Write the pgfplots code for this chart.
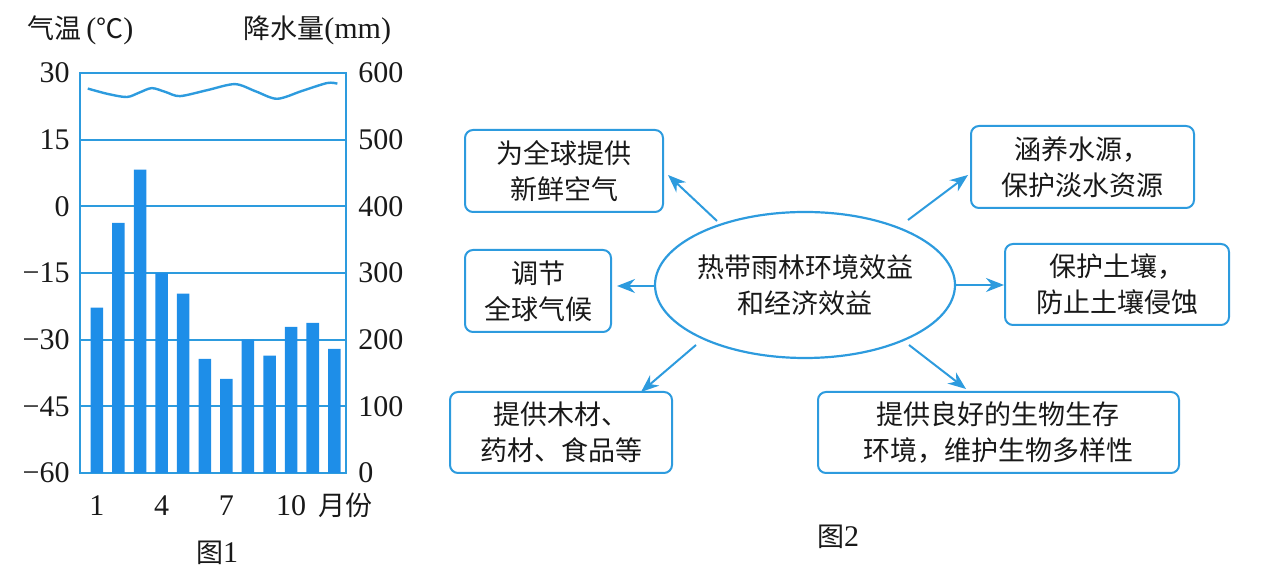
\documentclass[border=0pt]{standalone}
\usepackage{fontspec}
\usepackage{pgfplots}
\pgfplotsset{compat=1.18}
\usetikzlibrary{arrows.meta}
\setmainfont{Liberation Serif}
\newfontfamily\cjk{Noto Sans CJK SC}
\definecolor{barblue}{RGB}{30,142,232}
\definecolor{lineblue}{RGB}{45,155,222}
\definecolor{txt}{RGB}{25,25,25}
\newcommand{\cjkfont}{\cjk\fontsize{13.5}{18}\selectfont}
\newcommand{\numfont}{\fontsize{15}{15}\selectfont}
\begin{document}
\begin{tikzpicture}
\path[use as bounding box] (0,0) rectangle (630.5pt,285.5pt);
% temperature axis (left)
\begin{axis}[
  at={(40pt,49pt)}, anchor=south west,
  width=133pt, height=200pt, scale only axis,
  xmin=0.22, xmax=12.54, ymin=-60, ymax=30,
  xtick={1,4,7,10}, xticklabels={1,4,7,10},
  ytick={-60,-45,-30,-15,0,15,30},
  yticklabels={−60,−45,−30,−15,0,15,30},
  ymajorgrids, grid style={lineblue, line width=1pt},
  axis line style={lineblue, line width=1pt},
  major tick length=0pt,
  tick label style={font=\numfont, text=txt},
  yticklabel style={inner sep=0pt, xshift=-5pt},
  xticklabel style={inner sep=0pt, yshift=-11pt},
  clip=false,
]
\addplot[lineblue, line width=1.2pt, smooth] coordinates {
  (0.58,26.5) (1.5,25.3) (2.39,24.6) (2.97,25.6) (3.55,26.6) (4.2,25.7) (4.85,24.8)
  (6.12,26.15) (7.40,27.5) (8.37,25.85) (9.35,24.2) (10.51,25.98) (11.67,27.75) (12.14,27.6)
};
\end{axis}
% precipitation axis (right)
\begin{axis}[
  at={(40pt,49pt)}, anchor=south west,
  width=133pt, height=200pt, scale only axis,
  xmin=0.22, xmax=12.54, ymin=0, ymax=600,
  axis y line*=right, axis x line=none,
  ytick={0,100,200,300,400,500,600},
  yticklabels={0,100,200,300,400,500,600},
  axis line style={lineblue, line width=1pt},
  major tick length=0pt,
  tick label style={font=\numfont, text=txt},
  yticklabel style={inner sep=0pt, xshift=6pt, anchor=west},
]
\addplot[ybar, bar width=0.58, fill=barblue, draw=none] coordinates {
  (1,248) (2,375) (3,455) (4,300) (5,269) (6,171) (7,141) (8,200) (9,176) (10,219) (11,225) (12,186)
};
\end{axis}
% labels and diagram in pixel coordinates
\begin{scope}[x=0.5pt, y=-0.5pt, yshift=285.5pt, text=txt]
\node[anchor=west, inner sep=0pt, font=\numfont] at (27,30) {{\cjkfont 气温}\,({\cjkfont ℃})};
\node[anchor=west, inner sep=0pt, font=\numfont] at (243,30) {{\cjkfont 降水量}(mm)};
\node[font=\cjkfont] at (345,505) {月份};
\node[font=\numfont] at (217,553) {{\cjkfont 图}1};
\node[font=\numfont] at (838,537) {{\cjkfont 图}2};
% boxes
\begin{scope}[lineblue, line width=1pt, rounded corners=4pt]
\draw (465,130) rectangle (663,212);
\draw (465,250) rectangle (611,332);
\draw (450,392) rectangle (672,473);
\draw (971,126) rectangle (1194,208);
\draw (1005,244) rectangle (1229,325);
\draw (818,392) rectangle (1179,473);
\end{scope}
\draw[lineblue, line width=1.1pt] (805,285) ellipse [x radius=150, y radius=73];
\node[align=center, font=\cjkfont] at (564,171) {为全球提供\\新鲜空气};
\node[align=center, font=\cjkfont] at (538,291) {调节\\全球气候};
\node[align=center, font=\cjkfont] at (561,432) {提供木材、\\药材、食品等};
\node[align=center, font=\cjkfont] at (1082,167) {涵养水源，\\保护淡水资源};
\node[align=center, font=\cjkfont] at (1117,284) {保护土壤，\\防止土壤侵蚀};
\node[align=center, font=\cjkfont] at (998,432) {提供良好的生物生存\\环境，维护生物多样性};
\node[align=center, font=\cjkfont] at (805,285) {热带雨林环境效益\\和经济效益};
% arrows
\begin{scope}[lineblue, line width=1pt, -{Stealth[length=9pt,width=7pt]}]
\draw (717,221) -- (668,175);
\draw (655,286) -- (617,286);
\draw (908,220) -- (968,175);
\draw (956,285) -- (1004,285);
\draw (696,345) -- (641,392);
\draw (909,345) -- (966,389);
\end{scope}
\end{scope}
\end{tikzpicture}
\end{document}
